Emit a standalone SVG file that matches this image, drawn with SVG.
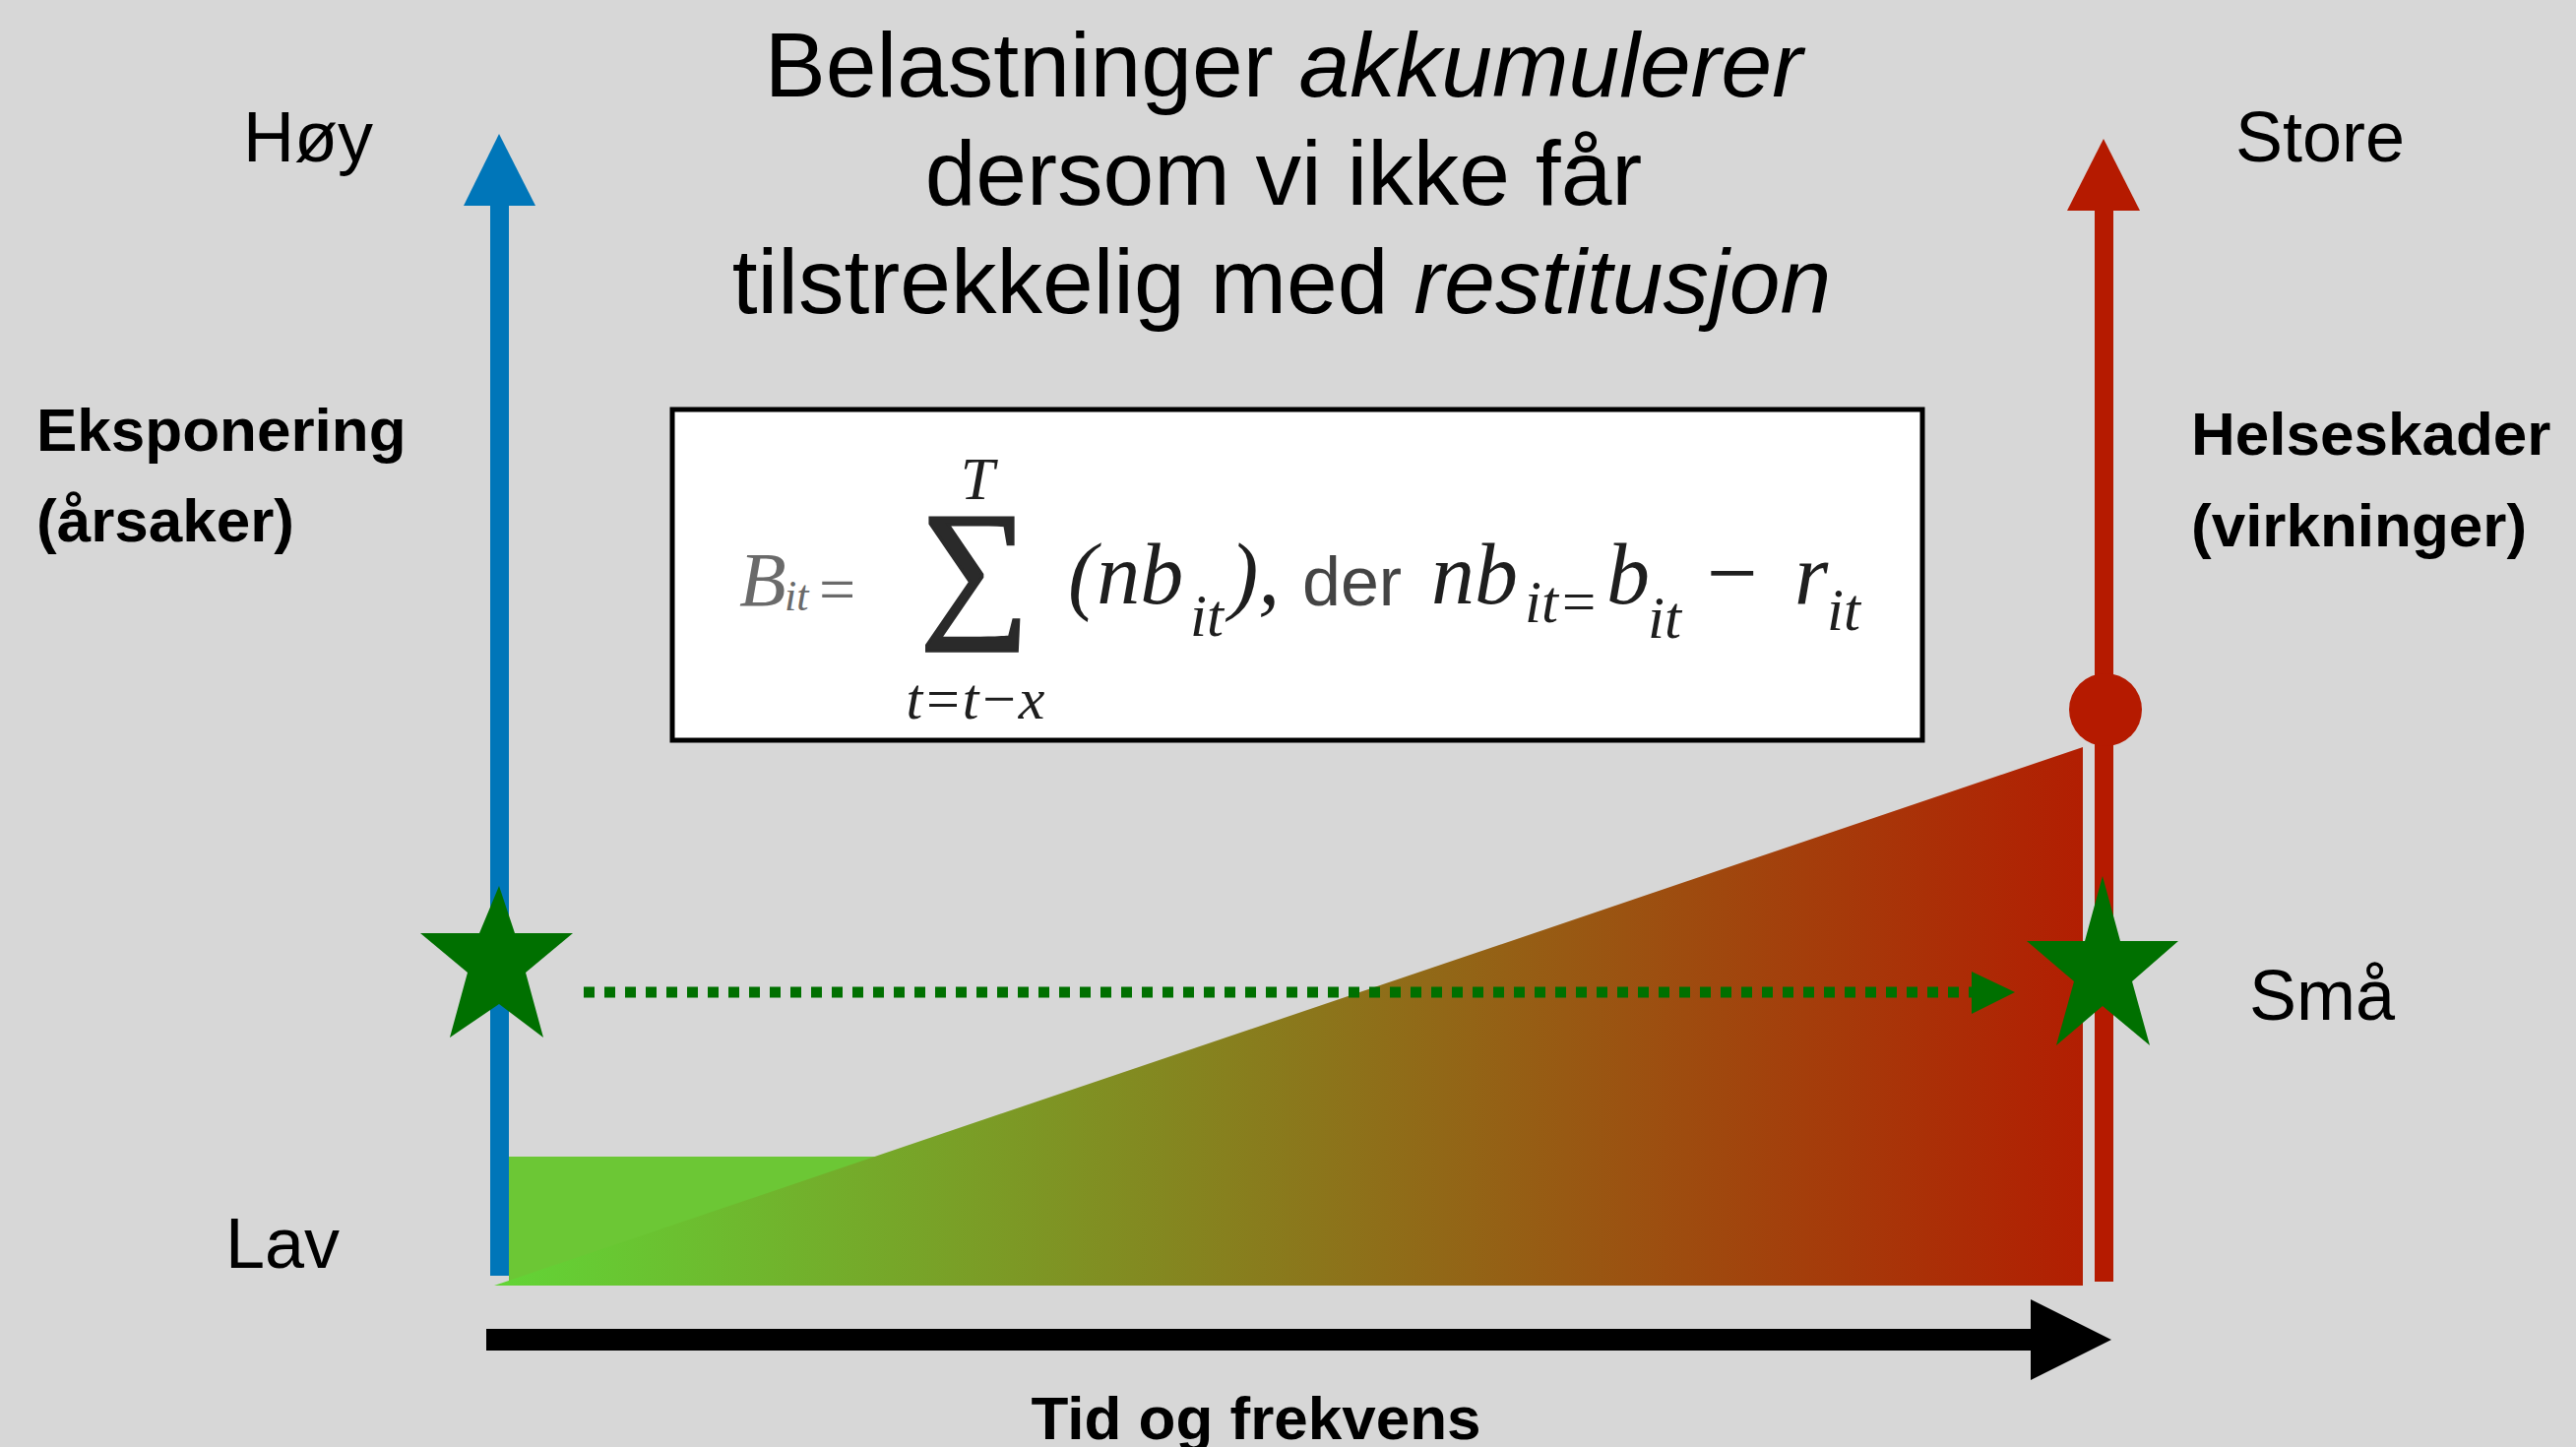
<svg xmlns="http://www.w3.org/2000/svg" width="2617" height="1470" viewBox="0 0 2617 1470">
<style>
.sans{font-family:"Liberation Sans",Arial,sans-serif;fill:#000}
.lbl{font-size:72px}
.bold{font-size:62px;font-weight:bold}
.title{font-size:93px;text-anchor:middle}
.m{font-family:"Liberation Serif","Times New Roman",serif;font-style:italic;fill:#1e1e1e}
.big{font-size:88px}
.sub{font-size:61px}
.star{fill:#007000}
</style>
<defs>
<linearGradient id="grad" gradientUnits="userSpaceOnUse" x1="502" y1="0" x2="2116" y2="0">
<stop offset="0" stop-color="#62d536"/>
<stop offset="0.5" stop-color="#8a791c"/>
<stop offset="1" stop-color="#b21e02"/>
</linearGradient>
</defs>
<rect width="2617" height="1470" fill="#d7d7d7"/>

<g id="title">
<text class="sans title" x="1304" y="98">Belastninger <tspan font-style="italic">akkumulerer</tspan></text>
<text class="sans title" x="1304" y="208">dersom vi ikke får</text>
<text class="sans title" x="1302" y="318">tilstrekkelig med <tspan font-style="italic">restitusjon</tspan></text>
</g>

<g id="labels">
<text class="sans lbl" x="247" y="164">Høy</text>
<text class="sans lbl" x="2271" y="164">Store</text>
<text class="sans lbl" x="229" y="1288">Lav</text>
<text class="sans lbl" x="2285" y="1036">Små</text>
<text class="sans bold" x="37" y="458">Eksponering</text>
<text class="sans bold" x="37" y="550">(årsaker)</text>
<text class="sans bold" x="2226" y="462">Helseskader</text>
<text class="sans bold" x="2226" y="555">(virkninger)</text>
<text class="sans bold" x="1276" y="1462" text-anchor="middle" font-size="63">Tid og frekvens</text>
</g>

<g id="formula">
<rect x="683" y="416" width="1270" height="336" fill="#fff" stroke="#000" stroke-width="5"/>
<text class="m" x="751" y="615" font-size="78" style="fill:#6a6a6a">B</text>
<text class="m" x="797" y="620" font-size="44" style="fill:#6a6a6a">it</text>
<text x="832" y="621" font-size="66" font-family="Liberation Serif,serif" fill="#6a6a6a">=</text>
<text x="990" y="628" font-size="156" font-family="Liberation Serif,serif" fill="#2a2a2a" stroke="#2a2a2a" stroke-width="3" text-anchor="middle">∑</text>
<text class="m" x="993" y="507" font-size="62" text-anchor="middle">T</text>
<text class="m" x="991" y="730" font-size="60" text-anchor="middle">t=t−x</text>
<text class="m big" x="1085" y="613">(nb</text>
<text class="m sub" x="1209" y="646">it</text>
<text class="m big" x="1249" y="613">),</text>
<text x="1323" y="615" font-size="70" font-family="Liberation Sans,Arial,sans-serif" fill="#444">der</text>
<text class="m big" x="1454" y="613">nb</text>
<text class="m sub" x="1549" y="632">it=</text>
<text class="m big" x="1632" y="613">b</text>
<text class="m sub" x="1674" y="648">it</text>
<text x="1734" y="613" font-size="92" font-family="Liberation Serif,serif" fill="#1e1e1e">−</text>
<text class="m big" x="1823" y="613">r</text>
<text class="m sub" x="1856" y="640">it</text>
</g>

<g id="load-area">
<rect x="517" y="1175" width="600" height="128" fill="#6cc735"/>
<polygon points="502,1306 2116,759 2116,1306" fill="url(#grad)"/>
</g>

<g id="exposure-axis">
<rect x="498" y="205" width="19" height="1091" fill="#0076b9"/>
<polygon points="507,136 544,209 471,209" fill="#0076b9"/>
</g>

<g id="health-axis">
<rect x="2128" y="210" width="19" height="1092" fill="#b51a00"/>
<polygon points="2137,141 2174,214 2100,214" fill="#b51a00"/>
<circle cx="2139" cy="721" r="37" fill="#b51a00"/>
</g>

<g id="connectors">
<line x1="593" y1="1008" x2="2003" y2="1008" stroke="#007000" stroke-width="11" stroke-dasharray="11 10"/>
<polygon points="2003,987 2047,1008 2003,1030" fill="#007000"/>
<rect x="494" y="1350" width="1570" height="22" fill="#000"/>
<polygon points="2063,1320 2145,1361 2063,1402" fill="#000"/>
</g>

<g id="star-left">
<polygon class="star" points="507,900 523,948 582,948 534,988 552,1054 507,1020 457,1054 475,988 427,948 487,948"/>
</g>
<g id="star-right">
<polygon class="star" points="2136,890 2154,956 2213,956 2166,997 2184,1062 2136,1022 2089,1062 2107,997 2059,956 2118,956"/>
</g>
</svg>
